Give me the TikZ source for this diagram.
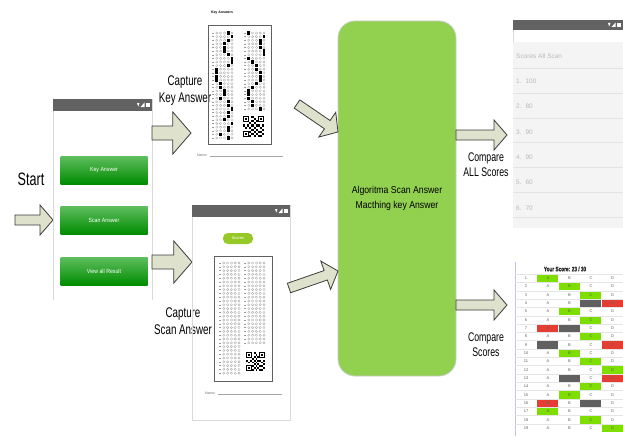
\documentclass[tikz,border=0pt]{standalone}
\usepackage{fontspec}
\setmainfont{Liberation Sans}
\newfontfamily\condensed[FakeStretch=0.7]{Liberation Sans}
\newfontfamily\condensedbold[FakeStretch=0.72, FakeBold=1.2]{Liberation Sans Bold}
\newfontfamily\semicond[FakeStretch=0.87]{Liberation Sans}
\usetikzlibrary{calc, positioning}
\definecolor{arrowfill}{RGB}{222,225,203}
\definecolor{arrowdraw}{RGB}{60,60,60}
\definecolor{algofill}{RGB}{146,208,80}
\definecolor{barcol}{RGB}{98,98,98}
\definecolor{btntop}{RGB}{95,190,95}
\definecolor{btnbot}{RGB}{0,140,0}
\definecolor{pillcol}{RGB}{150,200,40}
\definecolor{listbg}{RGB}{244,244,244}
\definecolor{okcell}{RGB}{125,222,0}
\definecolor{badcell}{RGB}{228,62,52}
\definecolor{skipcell}{RGB}{96,96,96}

% block arrow between two named points, optional size factor
\newcommand\blockarrow[3][1]{%
  \coordinate (hb) at ($(#3)!13pt*#1!(#2)$);
  \draw[flowarrow] ($(#2)!5pt*#1!90:(#3)$) -- ($(hb)!5pt*#1!90:(#3)$)
    -- ($(hb)!15pt*#1!90:(#3)$) -- (#3) -- ($(hb)!15pt*#1!-90:(#3)$)
    -- ($(hb)!5pt*#1!-90:(#3)$) -- ($(#2)!5pt*#1!-90:(#3)$) -- cycle;}

% status bar icons: right x, centre y
\newcommand\statusicons[2]{%
  \fill[white] (#1-4,#2-2) rectangle (#1,#2+2);
  \fill[white] (#1-5.5,#2+2) -- (#1-9.5,#2+2) -- (#1-5.5,#2-2.5) -- cycle;
  \fill[white] (#1-13,#2-2) -- (#1-10.5,#2-2) -- (#1-11.75,#2+1.5) -- cycle;}

% one column of answer bubbles: x0, y0, row pitch, filled bubble per row
\newcommand\bubblecol[4]{%
  \foreach \f [count=\r from 0] in {#4}{
    \draw[sheetink] (#1-0.8,#2+\r*#3) -- (#1+0.6,#2+\r*#3);
    \foreach \k in {1,...,5}{
      \ifnum\k=\f\relax
        \fill[black] (#1+\k*3.8-1.4,#2+\r*#3-1.6) rectangle ++(2.8,3.2);
      \else
        \draw[bubble] (#1+\k*3.8,#2+\r*#3) circle (1.15pt);
      \fi}}}

% qr code: top-left x, y, size
\newcommand\qrcode[3]{%
  \pgfmathsetmacro\qm{#3/10}
  \fill[white] (#1,#2) rectangle ++(#3,#3);
  \foreach \i/\j in {0/0,7/0,0/7}{
    \fill[black] (#1+\i*\qm,#2+\j*\qm) rectangle ++(3*\qm,3*\qm);
    \fill[white] (#1+\i*\qm+0.5*\qm,#2+\j*\qm+0.5*\qm) rectangle ++(2*\qm,2*\qm);
    \fill[black] (#1+\i*\qm+\qm,#2+\j*\qm+\qm) rectangle ++(\qm,\qm);}
  \foreach \i/\j in {4/0,5/1,4/2,6/2,3/3,5/3,4/4,6/4,7/4,9/4,0/4,2/4,1/5,
                     3/5,5/5,8/5,4/6,6/6,9/6,3/7,5/7,7/7,8/7,4/8,6/8,9/8,3/9,5/9,7/9,8/9}
    \fill[black] (#1+\i*\qm,#2+\j*\qm) rectangle ++(\qm,\qm);}

\begin{document}
\begin{tikzpicture}[x=1pt, y=-1pt,
    flowarrow/.style={draw=arrowdraw, fill=arrowfill, line width=0.8pt, line join=miter},
    steplbl/.style={font=\condensed\fontsize{14}{17}\selectfont, align=center, inner sep=0},
    cmplbl/.style={font=\condensed\fontsize{12.5}{15}\selectfont, align=center, inner sep=0},
    phoneedge/.style={draw=gray!30, line width=0.6pt},
    menubtn/.style={top color=btntop, bottom color=btnbot, minimum width=87pt, minimum height=28pt,
                    inner sep=0, text=white, font=\semicond\fontsize{6}{7}\selectfont},
    sheetedge/.style={draw=gray!75!black, line width=1pt},
    sheetink/.style={draw=gray!80, line width=0.3pt},
    bubble/.style={draw=gray!70, line width=0.3pt},
    tinytxt/.style={font=\fontsize{3.5}{4}\selectfont, inner sep=0, text=gray!80!black},
    algobox/.style={fill=algofill, draw=gray!40, line width=0.8pt, rounded corners=17pt,
                    minimum width=118pt, minimum height=355pt, align=center,
                    font=\semicond\fontsize{10}{15}\selectfont},
    listtxt/.style={font=\fontsize{6.5}{7}\selectfont, text=gray!55, inner sep=0},
    celltxt/.style={font=\fontsize{4}{5}\selectfont, text=gray!75!black, inner sep=0}
  ]
\useasboundingbox (0,0) rectangle (623,436);
\fill[white] (0,0) rectangle (623,436);

% start
\node[font=\condensed\fontsize{18}{20}\selectfont, inner sep=0] (start) at (31,179) {Start};
\coordinate (startTail) at (15,220);
\coordinate (startTip) at (53,220);
\blockarrow{startTail}{startTip}

% menu phone
\draw[phoneedge] (53,99) -- (53,300) (152,99) -- (152,300);
\fill[barcol] (53,99) rectangle (152,111);
\statusicons{150}{105}
\node[menubtn] (keybtn) at (104,170) {Key Answer};
\node[menubtn] (scanbtn) at (104,220) {Scan Answer};
\node[menubtn] (viewbtn) at (104,271) {View all Result};

% capture arrows
\coordinate (keyOut) at (152,133);
\coordinate (keyTip) at (191,133);
\coordinate (scanOut) at (152,262);
\coordinate (scanTip) at (192,262);
\blockarrow[1.4]{keyOut}{keyTip}
\blockarrow[1.4]{scanOut}{scanTip}
\node[steplbl] (capkey) at (185,91) {Capture\\Key Answer};
\node[steplbl] (capscan) at (183,321) {Capture\\Scan Answer};

% key answer sheet
\node[font=\bfseries\fontsize{3.5}{4}\selectfont, inner sep=0] (keytitle) at (222,13) {Key Answers};
\draw[sheetedge] (208,26) rectangle (271,144);
\bubblecol{213}{33}{3.62}{4,5,4,3,3,3,4,5,5,4,1,1,1,1,2,2,3,3,2,4,4,5,4,4,3,5,4,4,2,4}
\bubblecol{245}{33}{3.62}{1,5,4,4,4,5,5,1,2,3,3,4,4,4,3,2,1,1,1,2,2,4}
\qrcode{243}{116}{21}
\node[tinytxt, anchor=west] (keyname) at (197,155) {Name:};
\draw[gray!70, line width=0.4pt] (keyname.east) ++(2,1) -- (283,156);

% scan phone
\draw[phoneedge] (192,205) rectangle (290,420);
\fill[barcol] (192,205) rectangle (290,217);
\statusicons{288}{211}
\node[fill=pillcol, rounded corners=5pt, minimum width=30pt, minimum height=11pt, inner sep=0,
      text=white, font=\fontsize{4}{5}\selectfont] (scorespill) at (238,238.5) {Scores};
\draw[sheetedge] (214,256) rectangle (272,381);
\bubblecol{220}{263}{3.8}{0,0,0,0,0,0,0,0,0,0,0,0,0,0,0,0,0,0,0,0,0,0,0,0,0,0,0,0,0,0}
\bubblecol{245}{263}{3.8}{0,0,0,0,0,0,0,0,0,0,0,0,0,0,0,0,0,0,0,0,0,0}
\qrcode{246}{352}{19}
\node[tinytxt, anchor=west] (scanname) at (205,393) {Name:};
\draw[gray!70, line width=0.4pt] (scanname.east) ++(2,1) -- (282,394);

% algorithm block
\node[algobox] (algo) at (397,198.5) {Algoritma Scan Answer\\Macthing key Answer};
\coordinate (keyIn) at (297,104);
\coordinate (algoKey) at (338,132);
\coordinate (scanIn) at (289,288);
\coordinate (algoScan) at (338,271);
\blockarrow{keyIn}{algoKey}
\blockarrow{scanIn}{algoScan}

% outputs
\coordinate (algoAll) at (456,135);
\coordinate (allTip) at (507,135);
\coordinate (algoOne) at (456,305);
\coordinate (oneTip) at (507,305);
\blockarrow{algoAll}{allTip}
\blockarrow{algoOne}{oneTip}
\node[cmplbl] (cmpall) at (486,164.5) {Compare\\ALL Scores};
\node[cmplbl] (cmpone) at (486,345) {Compare\\Scores};

% all scores phone
\draw[phoneedge] (513,20) -- (513,228);
\fill[barcol] (513,20) rectangle (623,30);
\statusicons{621}{25}
\fill[listbg] (513,42) rectangle (623,228);
\foreach \y in {68,93,118,142,167,192,217}
  \draw[gray!22, line width=0.6pt] (513,\y) -- (623,\y);
\node[listtxt, anchor=west] (scoreshead) at (516,56) {Scores All Scan};
\foreach \n/\s [count=\i from 0] in {1/100,2/80,3/90,4/90,5/60,6/70}
  \node[listtxt, anchor=west] at (516,81+25.4*\i) {\n.\hspace{4pt}\s};

% score table
\draw[draw=gray!35!blue!30, line width=0.6pt] (515,262) -- (515,436);
\node[font=\condensedbold\fontsize{6.5}{7}\selectfont, text=black!85, inner sep=0]
  (yourscore) at (565,269) {Your Score: 23 / 30};
\foreach \r/\c/\k in {1/1/okcell,2/2/okcell,3/3/okcell,4/3/skipcell,4/4/badcell,5/2/okcell,
    6/3/okcell,7/1/badcell,7/2/skipcell,8/3/okcell,9/1/skipcell,9/4/badcell,10/2/okcell,
    11/3/okcell,12/4/okcell,13/2/skipcell,13/4/badcell,14/3/okcell,15/2/okcell,
    16/1/badcell,16/3/skipcell,17/1/okcell,18/3/okcell,19/4/okcell}
  \fill[\k] (537+21.5*\c-21.5+0.4,274+8.33*\r-8.33+0.5) rectangle ++(20.7,7.4);
\foreach \r in {1,...,19}{
  \draw[gray!20, line width=0.3pt] (515,274+8.33*\r-8.33) -- (623,274+8.33*\r-8.33);
  \node[celltxt] at (526,278.2+8.33*\r-8.33) {\r};
  \foreach \l [count=\c from 0] in {A,B,C,D}
    \node[celltxt] at (548+21.5*\c,278.2+8.33*\r-8.33) {\l};
}
\end{tikzpicture}
\end{document}
